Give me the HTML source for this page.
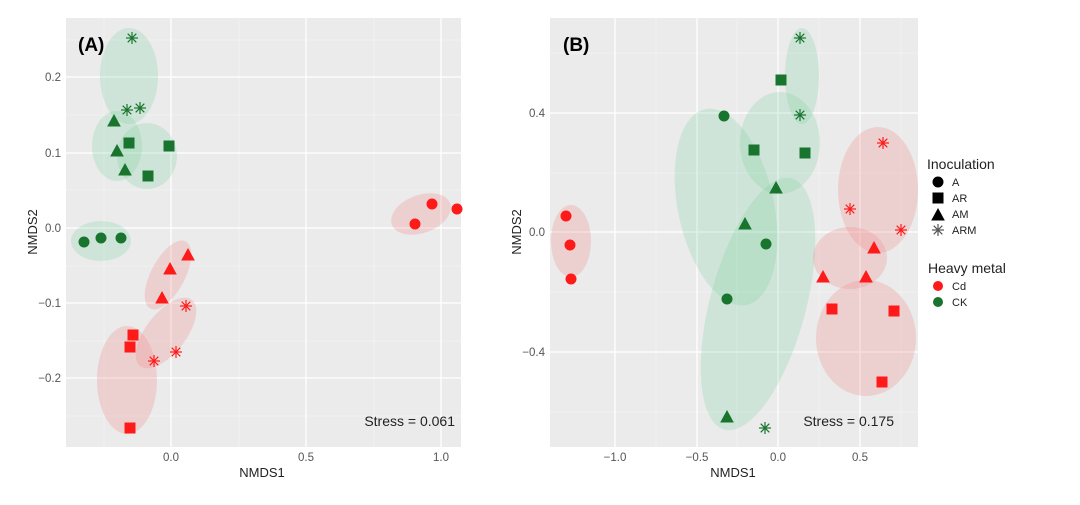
<!DOCTYPE html>
<html><head><meta charset="utf-8"><style>
body{margin:0;background:#fff;}
svg text{font-family:"Liberation Sans",sans-serif;}
</style></head><body>
<svg width="1080" height="500" xmlns="http://www.w3.org/2000/svg">
<defs>
<g id="cir"><circle r="5"/></g>
<g id="sq"><rect x="-5" y="-5" width="10" height="10"/></g>
<g id="tri"><polygon points="0,-6 6,5 -6,5"/></g>
<g id="ast" fill="none" stroke-width="1.2"><line x1="-6" y1="0" x2="6" y2="0"/><line x1="0" y1="-6" x2="0" y2="6"/><line x1="-4.3" y1="-4.3" x2="4.3" y2="4.3"/><line x1="-4.3" y1="4.3" x2="4.3" y2="-4.3"/></g>
</defs>
<!-- Panel A -->
<rect x="66" y="18" width="395" height="429" fill="#ebebeb"/>
<g stroke="#f5f5f5" stroke-width="0.7">
<line x1="66" x2="461" y1="115" y2="115"/><line x1="66" x2="461" y1="190" y2="190"/><line x1="66" x2="461" y1="266" y2="266"/><line x1="66" x2="461" y1="341" y2="341"/><line x1="66" x2="461" y1="416" y2="416"/><line x1="66" x2="461" y1="40" y2="40"/>
<line y1="18" y2="447" x1="104" x2="104"/><line y1="18" y2="447" x1="239" x2="239"/><line y1="18" y2="447" x1="374" x2="374"/>
</g>
<g stroke="#fff" stroke-width="1.3">
<line x1="66" x2="461" y1="77" y2="77"/><line x1="66" x2="461" y1="153" y2="153"/><line x1="66" x2="461" y1="228" y2="228"/><line x1="66" x2="461" y1="303" y2="303"/><line x1="66" x2="461" y1="378" y2="378"/>
<line y1="18" y2="447" x1="171" x2="171"/><line y1="18" y2="447" x1="306" x2="306"/><line y1="18" y2="447" x1="441" x2="441"/>
</g>
<g fill="#6fcf97" fill-opacity="0.22">
<ellipse cx="129" cy="76" rx="29" ry="48"/><ellipse cx="117" cy="146" rx="25" ry="35"/><ellipse cx="147" cy="156" rx="30" ry="33"/><ellipse cx="101" cy="241" rx="30" ry="20"/>
</g>
<g fill="#f08080" fill-opacity="0.25">
<ellipse cx="0" cy="0" rx="31" ry="19" transform="translate(421,214) rotate(-20)"/>
<ellipse cx="0" cy="0" rx="17" ry="38" transform="translate(168,275) rotate(28)"/>
<ellipse cx="0" cy="0" rx="20" ry="42" transform="translate(166,333) rotate(38)"/>
<ellipse cx="127" cy="380" rx="30" ry="54"/>
</g>
<g fill="#19742e" stroke="#19742e">
<use href="#ast" x="132" y="38"/><use href="#ast" x="127" y="110"/><use href="#ast" x="140" y="108"/>
<use href="#tri" x="114" y="121"/><use href="#tri" x="117" y="151"/><use href="#tri" x="125" y="170"/>
<use href="#sq" x="129" y="143"/><use href="#sq" x="169" y="146"/><use href="#sq" x="148" y="176"/>
<use href="#cir" x="84" y="242"/><use href="#cir" x="101" y="238"/><use href="#cir" x="121" y="238"/>
</g>
<g fill="#ff1a1a" stroke="#ff1a1a">
<use href="#cir" x="415" y="224"/><use href="#cir" x="432" y="204"/><use href="#cir" x="457" y="209"/>
<use href="#tri" x="188" y="255"/><use href="#tri" x="170" y="269"/><use href="#tri" x="162" y="298"/>
<use href="#ast" x="186" y="306"/><use href="#ast" x="176" y="352"/><use href="#ast" x="154" y="361"/>
<use href="#sq" x="133" y="335"/><use href="#sq" x="130" y="347"/><use href="#sq" x="130" y="428"/>
</g>
<text x="78" y="51" font-size="19" font-weight="bold">(A)</text>
<text x="455" y="426" font-size="14" text-anchor="end" fill="#222">Stress = 0.061</text>
<g font-size="11.5" fill="#555" text-anchor="end">
<text x="61" y="81">0.2</text><text x="61" y="157">0.1</text><text x="61" y="232">0.0</text><text x="61" y="307">−0.1</text><text x="61" y="382">−0.2</text>
</g>
<g font-size="11.5" fill="#555" text-anchor="middle">
<text x="171" y="461">0.0</text><text x="306" y="461">0.5</text><text x="441" y="461">1.0</text>
</g>
<text x="262" y="477" font-size="13" text-anchor="middle" fill="#222">NMDS1</text>
<text transform="translate(37,232) rotate(-90)" font-size="13" text-anchor="middle" fill="#222">NMDS2</text>

<!-- Panel B -->
<rect x="550" y="18" width="368" height="429" fill="#ebebeb"/>
<g stroke="#f5f5f5" stroke-width="0.7">
<line x1="550" x2="918" y1="53" y2="53"/><line x1="550" x2="918" y1="173" y2="173"/><line x1="550" x2="918" y1="292" y2="292"/><line x1="550" x2="918" y1="412" y2="412"/>
<line y1="18" y2="447" x1="656" x2="656"/><line y1="18" y2="447" x1="737" x2="737"/><line y1="18" y2="447" x1="819" x2="819"/><line y1="18" y2="447" x1="901" x2="901"/>
</g>
<g stroke="#fff" stroke-width="1.3">
<line x1="550" x2="918" y1="113" y2="113"/><line x1="550" x2="918" y1="232" y2="232"/><line x1="550" x2="918" y1="352" y2="352"/>
<line y1="18" y2="447" x1="615" x2="615"/><line y1="18" y2="447" x1="697" x2="697"/><line y1="18" y2="447" x1="778" x2="778"/><line y1="18" y2="447" x1="860" x2="860"/>
</g>
<g fill="#6fcf97" fill-opacity="0.22">
<ellipse cx="0" cy="0" rx="48" ry="130" transform="translate(758,304) rotate(15)"/>
<ellipse cx="0" cy="0" rx="48" ry="100" transform="translate(726,207) rotate(-12)"/>
<ellipse cx="780" cy="143" rx="40" ry="51"/>
<ellipse cx="802" cy="76" rx="17" ry="48"/>
</g>
<g fill="#f08080" fill-opacity="0.25">
<ellipse cx="571" cy="241" rx="20" ry="36"/>
<ellipse cx="878" cy="190" rx="40" ry="63"/>
<ellipse cx="850" cy="258" rx="37" ry="31"/>
<ellipse cx="866" cy="338" rx="50" ry="58"/>
</g>
<g fill="#19742e" stroke="#19742e">
<use href="#ast" x="800" y="38"/><use href="#ast" x="800" y="115"/><use href="#ast" x="765" y="428"/>
<use href="#sq" x="781" y="80"/><use href="#sq" x="754" y="150"/><use href="#sq" x="805" y="153"/>
<use href="#cir" x="724" y="116"/><use href="#cir" x="766" y="244"/><use href="#cir" x="727" y="299"/>
<use href="#tri" x="776" y="188"/><use href="#tri" x="745" y="224"/><use href="#tri" x="727" y="417"/>
</g>
<g fill="#ff1a1a" stroke="#ff1a1a">
<use href="#cir" x="566" y="216"/><use href="#cir" x="570" y="245"/><use href="#cir" x="571" y="279"/>
<use href="#ast" x="883" y="143"/><use href="#ast" x="850" y="209"/><use href="#ast" x="901" y="230"/>
<use href="#tri" x="874" y="248"/><use href="#tri" x="823" y="277"/><use href="#tri" x="866" y="277"/>
<use href="#sq" x="832" y="309"/><use href="#sq" x="894" y="311"/><use href="#sq" x="882" y="382"/>
</g>
<text x="563" y="51" font-size="19" font-weight="bold">(B)</text>
<text x="894" y="426" font-size="14" text-anchor="end" fill="#222">Stress = 0.175</text>
<g font-size="11.5" fill="#555" text-anchor="end">
<text x="545" y="117">0.4</text><text x="545" y="236">0.0</text><text x="545" y="356">−0.4</text>
</g>
<g font-size="11.5" fill="#555" text-anchor="middle">
<text x="615" y="461">−1.0</text><text x="697" y="461">−0.5</text><text x="778" y="461">0.0</text><text x="860" y="461">0.5</text>
</g>
<text x="733" y="477" font-size="13" text-anchor="middle" fill="#222">NMDS1</text>
<text transform="translate(521,232) rotate(-90)" font-size="13" text-anchor="middle" fill="#222">NMDS2</text>

<!-- Legend -->
<text x="927" y="169" font-size="14" fill="#222">Inoculation</text>
<g fill="#000" stroke="#000">
<use href="#cir" x="938" y="182"/><use href="#sq" x="938" y="198"/><use href="#tri" x="938" y="215"/>
</g>
<use href="#ast" x="938" y="230" stroke="#555"/>
<g font-size="11" fill="#222">
<text x="952" y="186">A</text><text x="952" y="202">AR</text><text x="952" y="218">AM</text><text x="952" y="234">ARM</text>
</g>
<text x="928" y="273" font-size="14" fill="#222">Heavy metal</text>
<circle cx="938" cy="286" r="5" fill="#ff1a1a"/><circle cx="938" cy="302" r="5" fill="#19742e"/>
<g font-size="11" fill="#222"><text x="952" y="290">Cd</text><text x="952" y="306">CK</text></g>
</svg>
</body></html>
